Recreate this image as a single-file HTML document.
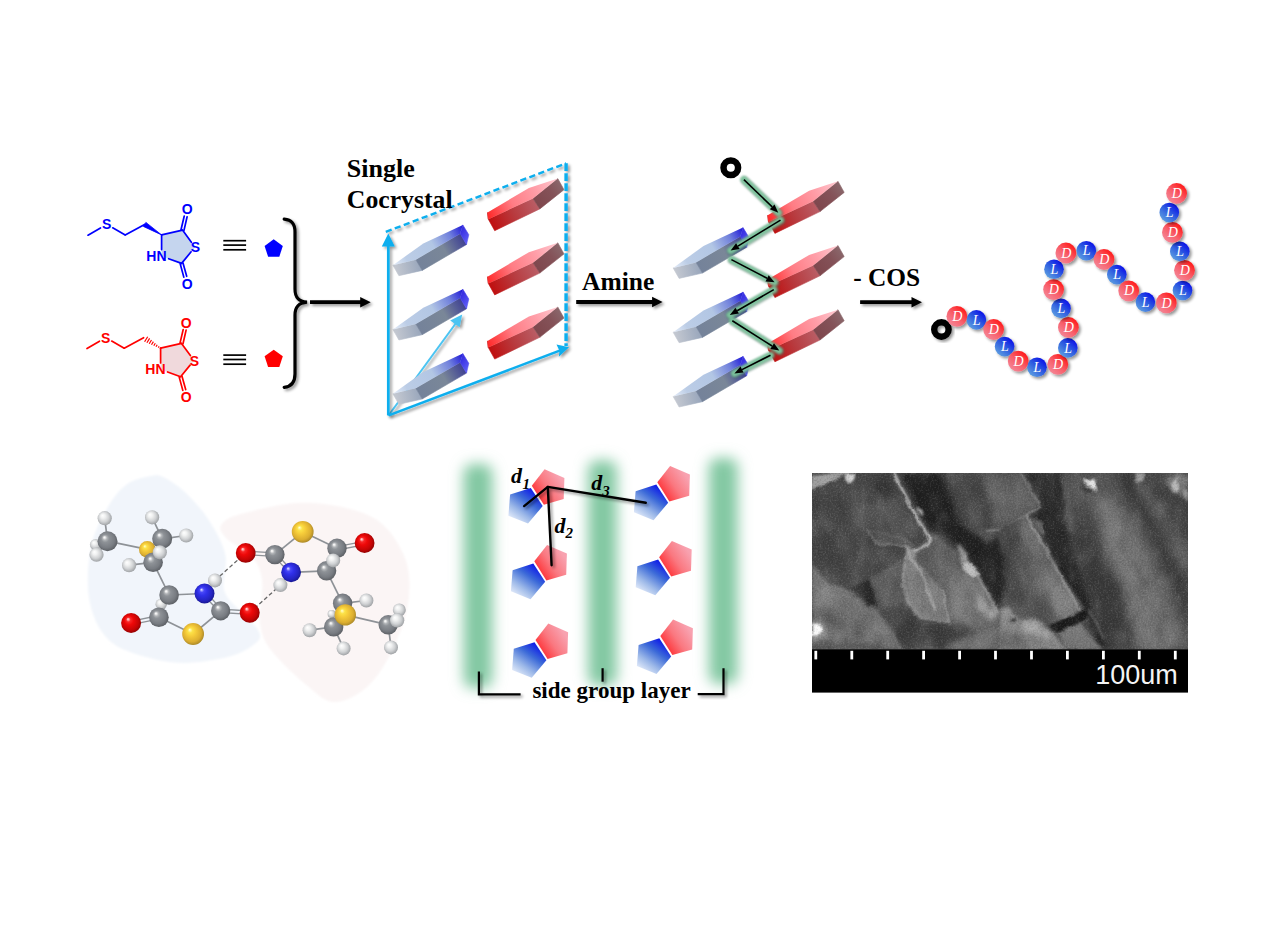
<!DOCTYPE html>
<html><head><meta charset="utf-8"><title>Graphical abstract</title>
<style>
html,body{margin:0;padding:0;background:#fff;width:1264px;height:939px;overflow:hidden}
svg{display:block;position:absolute;left:0;top:0}
</style></head><body>
<svg width="1264" height="939" viewBox="0 0 1264 939" font-family="Liberation Serif, serif">

<defs>
<filter id="sh" x="-30%" y="-30%" width="170%" height="170%"><feGaussianBlur in="SourceAlpha" stdDeviation="1.6"/><feOffset dx="2.2" dy="2.2"/><feComponentTransfer><feFuncA type="linear" slope="0.42"/></feComponentTransfer><feMerge><feMergeNode/><feMergeNode in="SourceGraphic"/></feMerge></filter>
<filter id="shl" filterUnits="userSpaceOnUse" x="370" y="150" width="220" height="290"><feGaussianBlur in="SourceAlpha" stdDeviation="1.6"/><feOffset dx="2.2" dy="2.2"/><feComponentTransfer><feFuncA type="linear" slope="0.42"/></feComponentTransfer><feMerge><feMergeNode/><feMergeNode in="SourceGraphic"/></feMerge></filter>
<filter id="sha" filterUnits="userSpaceOnUse" x="280" y="200" width="700" height="220"><feGaussianBlur in="SourceAlpha" stdDeviation="1.6"/><feOffset dx="2.2" dy="2.2"/><feComponentTransfer><feFuncA type="linear" slope="0.42"/></feComponentTransfer><feMerge><feMergeNode/><feMergeNode in="SourceGraphic"/></feMerge></filter>
<filter id="glow" filterUnits="userSpaceOnUse" x="700" y="150" width="120" height="260"><feGaussianBlur stdDeviation="1.3"/></filter>
<filter id="gb" filterUnits="userSpaceOnUse" x="430" y="430" width="340" height="300"><feGaussianBlur stdDeviation="7"/></filter>
<filter id="blob" x="-10%" y="-10%" width="120%" height="120%"><feGaussianBlur stdDeviation="1.3"/></filter>

<linearGradient id="bTop" gradientUnits="userSpaceOnUse" x1="394" y1="266" x2="464" y2="227"><stop offset="0" stop-color="#e4ecf8"/><stop offset="0.18" stop-color="#bccde6"/><stop offset="0.55" stop-color="#b2c6e4"/><stop offset="0.8" stop-color="#6f7fdc"/><stop offset="1" stop-color="#1c14d8"/></linearGradient>
<linearGradient id="bFront" gradientUnits="userSpaceOnUse" x1="418" y1="266" x2="467" y2="238"><stop offset="0" stop-color="#74829a"/><stop offset="0.55" stop-color="#7a8798"/><stop offset="0.8" stop-color="#535a96"/><stop offset="1" stop-color="#38388e"/></linearGradient>
<linearGradient id="bLeft" gradientUnits="userSpaceOnUse" x1="394" y1="270" x2="422" y2="264"><stop offset="0" stop-color="#c6cad2"/><stop offset="1" stop-color="#96a4ba"/></linearGradient>
<linearGradient id="bRight" gradientUnits="userSpaceOnUse" x1="461" y1="232" x2="469" y2="238"><stop offset="0" stop-color="#3a32e2"/><stop offset="1" stop-color="#5a58f4"/></linearGradient>

<linearGradient id="rTop" gradientUnits="userSpaceOnUse" x1="488" y1="216" x2="557" y2="180"><stop offset="0" stop-color="#ff2a2a"/><stop offset="0.35" stop-color="#ff7c84"/><stop offset="0.7" stop-color="#ff9ea8"/><stop offset="1" stop-color="#ffc8d0"/></linearGradient>
<linearGradient id="rFront" gradientUnits="userSpaceOnUse" x1="490" y1="226" x2="538" y2="203"><stop offset="0" stop-color="#c00c0c"/><stop offset="0.5" stop-color="#b83a3e"/><stop offset="1" stop-color="#ba6068"/></linearGradient>
<linearGradient id="rRight" gradientUnits="userSpaceOnUse" x1="535" y1="204" x2="562" y2="184"><stop offset="0" stop-color="#7e464c"/><stop offset="0.6" stop-color="#845258"/><stop offset="1" stop-color="#8a686c"/></linearGradient>

<linearGradient id="beadR" x1="0.2" y1="0.9" x2="0.85" y2="0.15"><stop offset="0" stop-color="#f48494"/><stop offset="0.45" stop-color="#f8606c"/><stop offset="1" stop-color="#ff1c1c"/></linearGradient>
<linearGradient id="beadB" x1="0.2" y1="0.9" x2="0.85" y2="0.15"><stop offset="0" stop-color="#5a9ae0"/><stop offset="0.5" stop-color="#2f5ee0"/><stop offset="1" stop-color="#0c14e8"/></linearGradient>

<linearGradient id="pR" x1="0.15" y1="0.85" x2="0.9" y2="0.3"><stop offset="0" stop-color="#ff2c30"/><stop offset="0.5" stop-color="#fa7880"/><stop offset="1" stop-color="#f8a2b0"/></linearGradient>
<linearGradient id="pB" x1="0.8" y1="0.1" x2="0.2" y2="0.95"><stop offset="0" stop-color="#0c18e8"/><stop offset="0.35" stop-color="#3c6ad8"/><stop offset="0.7" stop-color="#9cb8e8"/><stop offset="1" stop-color="#e4ecfa"/></linearGradient>

<radialGradient id="aC" cx="0.5" cy="0.5" r="0.66" fx="0.34" fy="0.30"><stop offset="0" stop-color="#ffffff"/><stop offset="0.06" stop-color="#eeeeee"/><stop offset="0.17" stop-color="#b0b3b6"/><stop offset="0.3" stop-color="#8e9297"/><stop offset="0.62" stop-color="#787c82"/><stop offset="1" stop-color="#43464a"/></radialGradient>
<radialGradient id="aH" cx="0.5" cy="0.5" r="0.66" fx="0.34" fy="0.30"><stop offset="0" stop-color="#ffffff"/><stop offset="0.25" stop-color="#f0f1f1"/><stop offset="0.55" stop-color="#cfd1d3"/><stop offset="0.8" stop-color="#a2a5a8"/><stop offset="1" stop-color="#74777a"/></radialGradient>
<radialGradient id="aO" cx="0.5" cy="0.5" r="0.66" fx="0.34" fy="0.30"><stop offset="0" stop-color="#ffe8e8"/><stop offset="0.06" stop-color="#ffb0b0"/><stop offset="0.17" stop-color="#f82828"/><stop offset="0.35" stop-color="#ee0808"/><stop offset="0.65" stop-color="#c40404"/><stop offset="1" stop-color="#5c0000"/></radialGradient>
<radialGradient id="aN" cx="0.5" cy="0.5" r="0.66" fx="0.34" fy="0.30"><stop offset="0" stop-color="#e8e8ff"/><stop offset="0.06" stop-color="#b0b0ff"/><stop offset="0.17" stop-color="#4848f8"/><stop offset="0.35" stop-color="#3030ea"/><stop offset="0.65" stop-color="#2424c0"/><stop offset="1" stop-color="#0c0c60"/></radialGradient>
<radialGradient id="aS" cx="0.5" cy="0.5" r="0.66" fx="0.34" fy="0.30"><stop offset="0" stop-color="#ffffe8"/><stop offset="0.06" stop-color="#fff6a0"/><stop offset="0.17" stop-color="#fce248"/><stop offset="0.35" stop-color="#f6cc3a"/><stop offset="0.65" stop-color="#dcae30"/><stop offset="1" stop-color="#7a6420"/></radialGradient>
</defs>

<g stroke="#0000ff" stroke-width="1.7" stroke-linecap="round" fill="none">
<polygon points="161.6,234.9 182.5,230.1 194.9,247.2 181.6,263.4 161.6,256.1" fill="#c5d5ee" stroke="none"/>
<line x1="161.6" y1="234.9" x2="182.5" y2="230.1"/>
<line x1="182.5" y1="230.1" x2="191.4" y2="242.3"/>
<line x1="191.1" y1="251.8" x2="181.6" y2="263.4"/>
<line x1="181.6" y1="263.4" x2="168.6" y2="258.7"/>
<line x1="161.6" y1="249.6" x2="161.6" y2="234.9"/>
<line x1="181.0" y1="229.8" x2="184.2" y2="216.2"/><line x1="184.0" y1="230.4" x2="187.1" y2="216.8"/>
<line x1="183.0" y1="263.0" x2="186.7" y2="276.3"/><line x1="180.2" y1="263.8" x2="183.8" y2="277.1"/>
<line x1="144.6" y1="224.4" x2="125.2" y2="234.9"/>
<line x1="125.2" y1="234.9" x2="112.7" y2="227.8"/>
<line x1="100.5" y1="227.9" x2="88.0" y2="235.2"/>
</g>
<polygon points="161.6,234.9 143.3,226.4 145.9,222.4" fill="#0000ff" stroke="#0000ff" stroke-width="0.8" stroke-linejoin="round"/>
<g fill="#0000ff" font-family="Liberation Sans, sans-serif" font-weight="bold" font-size="14px" text-anchor="middle">
<text x="106.6" y="229.4">S</text>
<text x="195.4" y="252.2">S</text>
<text x="187.3" y="214.2">O</text>
<text x="187.3" y="288.9">O</text>
<text x="156.4" y="261.1">HN</text>
</g>
<g stroke="#ff0000" stroke-width="1.7" stroke-linecap="round" fill="none">
<polygon points="160.6,348.2 181.5,343.4 193.9,360.5 180.6,376.7 160.6,369.40000000000003" fill="#f0d9dc" stroke="none"/>
<line x1="160.6" y1="348.2" x2="181.5" y2="343.4"/>
<line x1="181.5" y1="343.4" x2="190.4" y2="355.6"/>
<line x1="190.1" y1="365.1" x2="180.6" y2="376.7"/>
<line x1="180.6" y1="376.7" x2="167.6" y2="372.0"/>
<line x1="160.6" y1="362.9" x2="160.6" y2="348.2"/>
<line x1="180.0" y1="343.1" x2="183.2" y2="329.5"/><line x1="183.0" y1="343.7" x2="186.1" y2="330.1"/>
<line x1="182.0" y1="376.3" x2="185.7" y2="389.6"/><line x1="179.2" y1="377.1" x2="182.8" y2="390.4"/>
<line x1="143.6" y1="337.7" x2="124.2" y2="348.2"/>
<line x1="124.2" y1="348.2" x2="111.7" y2="341.1"/>
<line x1="99.5" y1="341.2" x2="87.0" y2="348.5"/>
</g>
<g stroke="#ff0000" stroke-width="1.2">
<line x1="158.3" y1="347.6" x2="159.1" y2="346.4"/>
<line x1="156.0" y1="346.7" x2="157.2" y2="344.8"/>
<line x1="153.8" y1="345.7" x2="155.3" y2="343.2"/>
<line x1="151.5" y1="344.7" x2="153.4" y2="341.6"/>
<line x1="149.2" y1="343.7" x2="151.5" y2="340.0"/>
<line x1="146.9" y1="342.8" x2="149.6" y2="338.4"/>
<line x1="144.6" y1="341.8" x2="147.7" y2="336.8"/>
</g>
<g fill="#ff0000" font-family="Liberation Sans, sans-serif" font-weight="bold" font-size="14px" text-anchor="middle">
<text x="105.6" y="342.7">S</text>
<text x="194.4" y="365.5">S</text>
<text x="186.3" y="327.5">O</text>
<text x="186.3" y="402.2">O</text>
<text x="155.4" y="374.4">HN</text>
</g>
<g stroke="#000" stroke-width="1.7"><line x1="223.3" y1="240.7" x2="246.1" y2="240.7"/><line x1="223.3" y1="245.1" x2="246.1" y2="245.1"/><line x1="223.3" y1="249.8" x2="246.1" y2="249.8"/></g>
<g stroke="#000" stroke-width="1.7"><line x1="223.3" y1="355.1" x2="246.1" y2="355.1"/><line x1="223.3" y1="359.5" x2="246.1" y2="359.5"/><line x1="223.3" y1="364.2" x2="246.1" y2="364.2"/></g>
<polygon points="273.7,239.3 282.8,245.9 279.3,256.7 268.1,256.7 264.6,245.9" fill="#0000ff"/>
<polygon points="273.7,349.7 282.8,356.3 279.3,367.1 268.1,367.1 264.6,356.3" fill="#ff0000"/>
<g filter="url(#sha)">
<path d="M284.2,219.2 C292,220 295,224 295,232 L295,289 C295,297 298,301.5 307,302.2 C298,303 295,307.5 295,315 L295,374 C295,382 292,386.5 284.2,387.3" fill="none" stroke="#000" stroke-width="3.2" stroke-linecap="round"/>
<path d="M310,300.3 L360.2,300.3 L360.2,297.0 L370.7,302.2 L360.2,307.4 L360.2,304.09999999999997 L310,304.09999999999997 Z" fill="#000"/>
<path d="M576.2,300.1 L652.1,300.1 L652.1,296.8 L662.6,302.0 L652.1,307.2 L652.1,303.9 L576.2,303.9 Z" fill="#000"/>
<path d="M860.1,300.3 L911.5,300.3 L911.5,297.0 L922,302.2 L911.5,307.4 L911.5,304.09999999999997 L860.1,304.09999999999997 Z" fill="#000"/>
</g>
<g filter="url(#shl)">
<line x1="388.6" y1="415.4" x2="456.5" y2="322.4" stroke="#4cc4f2" stroke-width="1.8"/>
<polygon points="462.2,314.6 450.2,320.4 459.6,327.2" fill="#4cc4f2"/>
</g>
<g transform="translate(0,0.0)"><polygon points="392.9,265.2 415.8,259.7 422.2,270.4 398.9,275.7" fill="url(#bLeft)" stroke="url(#bLeft)" stroke-width="0.6" stroke-linejoin="round"/><polygon points="415.8,259.7 460.2,233.8 466.5,244.5 422.2,270.4" fill="url(#bFront)" stroke="url(#bFront)" stroke-width="0.6" stroke-linejoin="round"/><polygon points="462.8,224.9 468.8,234.7 466.5,244.5 460.2,233.8" fill="url(#bRight)" stroke="url(#bRight)" stroke-width="0.6" stroke-linejoin="round"/><polygon points="392.9,265.2 423.3,243.4 462.8,224.9 460.2,233.8 415.8,259.7" fill="url(#bTop)"/></g>
<g transform="translate(0,0.0)"><polygon points="487.5,212.5 488.3,219.2 494.7,230.7 539.8,208.9 533,198.6 488.3,219.2" fill="url(#rFront)" stroke="url(#rFront)" stroke-width="0.6" stroke-linejoin="round"/><polygon points="533,198.6 557.8,178.6 564,189.7 539.8,208.9" fill="url(#rRight)" stroke="url(#rRight)" stroke-width="0.6" stroke-linejoin="round"/><polygon points="487.5,212.5 528.9,188 557.8,178.6 533,198.6 488.3,219.2" fill="url(#rTop)"/></g>
<g transform="translate(0,64.3)"><polygon points="392.9,265.2 415.8,259.7 422.2,270.4 398.9,275.7" fill="url(#bLeft)" stroke="url(#bLeft)" stroke-width="0.6" stroke-linejoin="round"/><polygon points="415.8,259.7 460.2,233.8 466.5,244.5 422.2,270.4" fill="url(#bFront)" stroke="url(#bFront)" stroke-width="0.6" stroke-linejoin="round"/><polygon points="462.8,224.9 468.8,234.7 466.5,244.5 460.2,233.8" fill="url(#bRight)" stroke="url(#bRight)" stroke-width="0.6" stroke-linejoin="round"/><polygon points="392.9,265.2 423.3,243.4 462.8,224.9 460.2,233.8 415.8,259.7" fill="url(#bTop)"/></g>
<g transform="translate(0,64.2)"><polygon points="487.5,212.5 488.3,219.2 494.7,230.7 539.8,208.9 533,198.6 488.3,219.2" fill="url(#rFront)" stroke="url(#rFront)" stroke-width="0.6" stroke-linejoin="round"/><polygon points="533,198.6 557.8,178.6 564,189.7 539.8,208.9" fill="url(#rRight)" stroke="url(#rRight)" stroke-width="0.6" stroke-linejoin="round"/><polygon points="487.5,212.5 528.9,188 557.8,178.6 533,198.6 488.3,219.2" fill="url(#rTop)"/></g>
<g transform="translate(0,128.6)"><polygon points="392.9,265.2 415.8,259.7 422.2,270.4 398.9,275.7" fill="url(#bLeft)" stroke="url(#bLeft)" stroke-width="0.6" stroke-linejoin="round"/><polygon points="415.8,259.7 460.2,233.8 466.5,244.5 422.2,270.4" fill="url(#bFront)" stroke="url(#bFront)" stroke-width="0.6" stroke-linejoin="round"/><polygon points="462.8,224.9 468.8,234.7 466.5,244.5 460.2,233.8" fill="url(#bRight)" stroke="url(#bRight)" stroke-width="0.6" stroke-linejoin="round"/><polygon points="392.9,265.2 423.3,243.4 462.8,224.9 460.2,233.8 415.8,259.7" fill="url(#bTop)"/></g>
<g transform="translate(0,128.4)"><polygon points="487.5,212.5 488.3,219.2 494.7,230.7 539.8,208.9 533,198.6 488.3,219.2" fill="url(#rFront)" stroke="url(#rFront)" stroke-width="0.6" stroke-linejoin="round"/><polygon points="533,198.6 557.8,178.6 564,189.7 539.8,208.9" fill="url(#rRight)" stroke="url(#rRight)" stroke-width="0.6" stroke-linejoin="round"/><polygon points="487.5,212.5 528.9,188 557.8,178.6 533,198.6 488.3,219.2" fill="url(#rTop)"/></g>
<g filter="url(#shl)" stroke="#0aaeee" fill="none">
<line x1="385.8" y1="231.9" x2="566.1" y2="163.3" stroke-width="2.4" stroke-dasharray="6.2 3.4"/>
<line x1="566.1" y1="163.3" x2="566.1" y2="346" stroke-width="3.4" stroke-dasharray="7.6 2.4"/>
<line x1="388.3" y1="415.4" x2="388.3" y2="245" stroke-width="2.7"/>
<polygon points="388.3,233.5 381.8,246.6 394.8,246.6" fill="#0aaeee" stroke="none"/>
<line x1="388.6" y1="415.4" x2="561" y2="350.2" stroke-width="2.5"/>
<polygon points="569,347.2 556.5,344.6 559.5,350.8 558.8,356.8" fill="#0aaeee" stroke="none"/>
</g>
<g font-family="Liberation Serif, serif" font-weight="bold" font-size="25px" fill="#000">
<text transform="translate(346.8,177.4) scale(1.04,1)" >Single</text><text transform="translate(346.8,207.8) scale(1.03,1)" >Cocrystal</text>
<text transform="translate(582.0,289.7) scale(1.02,1)" >Amine</text>
<text transform="translate(853.2,285.7) scale(1.015,1)" >- COS</text>
</g>
<g transform="translate(280.2,2.7)"><polygon points="392.9,265.2 415.8,259.7 422.2,270.4 398.9,275.7" fill="url(#bLeft)" stroke="url(#bLeft)" stroke-width="0.6" stroke-linejoin="round"/><polygon points="415.8,259.7 460.2,233.8 466.5,244.5 422.2,270.4" fill="url(#bFront)" stroke="url(#bFront)" stroke-width="0.6" stroke-linejoin="round"/><polygon points="462.8,224.9 468.8,234.7 466.5,244.5 460.2,233.8" fill="url(#bRight)" stroke="url(#bRight)" stroke-width="0.6" stroke-linejoin="round"/><polygon points="392.9,265.2 423.3,243.4 462.8,224.9 460.2,233.8 415.8,259.7" fill="url(#bTop)"/></g>
<g transform="translate(280.2,2.7)"><polygon points="487.5,212.5 488.3,219.2 494.7,230.7 539.8,208.9 533,198.6 488.3,219.2" fill="url(#rFront)" stroke="url(#rFront)" stroke-width="0.6" stroke-linejoin="round"/><polygon points="533,198.6 557.8,178.6 564,189.7 539.8,208.9" fill="url(#rRight)" stroke="url(#rRight)" stroke-width="0.6" stroke-linejoin="round"/><polygon points="487.5,212.5 528.9,188 557.8,178.6 533,198.6 488.3,219.2" fill="url(#rTop)"/></g>
<g transform="translate(280.2,67.0)"><polygon points="392.9,265.2 415.8,259.7 422.2,270.4 398.9,275.7" fill="url(#bLeft)" stroke="url(#bLeft)" stroke-width="0.6" stroke-linejoin="round"/><polygon points="415.8,259.7 460.2,233.8 466.5,244.5 422.2,270.4" fill="url(#bFront)" stroke="url(#bFront)" stroke-width="0.6" stroke-linejoin="round"/><polygon points="462.8,224.9 468.8,234.7 466.5,244.5 460.2,233.8" fill="url(#bRight)" stroke="url(#bRight)" stroke-width="0.6" stroke-linejoin="round"/><polygon points="392.9,265.2 423.3,243.4 462.8,224.9 460.2,233.8 415.8,259.7" fill="url(#bTop)"/></g>
<g transform="translate(280.2,66.9)"><polygon points="487.5,212.5 488.3,219.2 494.7,230.7 539.8,208.9 533,198.6 488.3,219.2" fill="url(#rFront)" stroke="url(#rFront)" stroke-width="0.6" stroke-linejoin="round"/><polygon points="533,198.6 557.8,178.6 564,189.7 539.8,208.9" fill="url(#rRight)" stroke="url(#rRight)" stroke-width="0.6" stroke-linejoin="round"/><polygon points="487.5,212.5 528.9,188 557.8,178.6 533,198.6 488.3,219.2" fill="url(#rTop)"/></g>
<g transform="translate(280.2,131.29999999999998)"><polygon points="392.9,265.2 415.8,259.7 422.2,270.4 398.9,275.7" fill="url(#bLeft)" stroke="url(#bLeft)" stroke-width="0.6" stroke-linejoin="round"/><polygon points="415.8,259.7 460.2,233.8 466.5,244.5 422.2,270.4" fill="url(#bFront)" stroke="url(#bFront)" stroke-width="0.6" stroke-linejoin="round"/><polygon points="462.8,224.9 468.8,234.7 466.5,244.5 460.2,233.8" fill="url(#bRight)" stroke="url(#bRight)" stroke-width="0.6" stroke-linejoin="round"/><polygon points="392.9,265.2 423.3,243.4 462.8,224.9 460.2,233.8 415.8,259.7" fill="url(#bTop)"/></g>
<g transform="translate(280.2,131.1)"><polygon points="487.5,212.5 488.3,219.2 494.7,230.7 539.8,208.9 533,198.6 488.3,219.2" fill="url(#rFront)" stroke="url(#rFront)" stroke-width="0.6" stroke-linejoin="round"/><polygon points="533,198.6 557.8,178.6 564,189.7 539.8,208.9" fill="url(#rRight)" stroke="url(#rRight)" stroke-width="0.6" stroke-linejoin="round"/><polygon points="487.5,212.5 528.9,188 557.8,178.6 533,198.6 488.3,219.2" fill="url(#rTop)"/></g>
<g filter="url(#glow)" stroke="#3f6b55" stroke-width="8.4" stroke-linecap="round" fill="none" opacity="0.45">
<line x1="744.6999999999999" y1="180.4" x2="779.0999999999999" y2="213.60000000000002"/>
<line x1="781.3" y1="220.9" x2="731.4" y2="251.3"/>
<line x1="732.1999999999999" y1="260.40000000000003" x2="775.4" y2="283.1"/>
<line x1="774.5999999999999" y1="290.40000000000003" x2="730.5999999999999" y2="315.7"/>
<line x1="733.0999999999999" y1="321.5" x2="780.0999999999999" y2="351.40000000000003"/>
<line x1="771.3" y1="356.0" x2="735.1999999999999" y2="374.2"/>
</g>
<g filter="url(#glow)" stroke="#7cc49c" stroke-width="6.8" stroke-linecap="round" fill="none" opacity="0.97">
<line x1="743.9" y1="179.6" x2="778.3" y2="212.8"/>
<line x1="780.5" y1="220.1" x2="730.6" y2="250.5"/>
<line x1="731.4" y1="259.6" x2="774.6" y2="282.3"/>
<line x1="773.8" y1="289.6" x2="729.8" y2="314.9"/>
<line x1="732.3" y1="320.7" x2="779.3" y2="350.6"/>
<line x1="770.5" y1="355.2" x2="734.4" y2="373.4"/>
</g>
<g stroke="#000" stroke-width="1.6" fill="#000">
<line x1="743.9" y1="179.6" x2="772.2" y2="206.9"/>
<polygon points="778.3,212.8 769.8,209.3 774.5,204.5" stroke="none"/>
<line x1="780.5" y1="220.1" x2="737.9" y2="246.1"/>
<polygon points="730.6,250.5 736.1,243.2 739.6,249.0" stroke="none"/>
<line x1="731.4" y1="259.6" x2="767.1" y2="278.3"/>
<polygon points="774.6,282.3 765.5,281.4 768.7,275.3" stroke="none"/>
<line x1="773.8" y1="289.6" x2="737.2" y2="310.7"/>
<polygon points="729.8,314.9 735.5,307.7 738.9,313.6" stroke="none"/>
<line x1="732.3" y1="320.7" x2="772.1" y2="346.0"/>
<polygon points="779.3,350.6 770.3,348.9 774.0,343.2" stroke="none"/>
<line x1="770.5" y1="355.2" x2="742.0" y2="369.6"/>
<polygon points="734.4,373.4 740.5,366.5 743.5,372.6" stroke="none"/>
</g>
<circle cx="730.8" cy="167.7" r="7.3" fill="none" stroke="#000" stroke-width="6.5"/>
<g filter="url(#sh)"><circle cx="941.4" cy="329.5" r="7.2" fill="none" stroke="#000" stroke-width="6.4"/></g>
<g font-family="Liberation Serif, serif" font-style="italic" font-size="14px" fill="#fff" text-anchor="middle">
<g filter="url(#sh)"><circle cx="956.9" cy="316.3" r="10.4" fill="url(#beadR)"/></g><text x="957.2" y="320.9">D</text>
<g filter="url(#sh)"><circle cx="976.4" cy="319.9" r="9.8" fill="url(#beadB)"/></g><text x="976.7" y="324.5">L</text>
<g filter="url(#sh)"><circle cx="993.6" cy="329.5" r="10.4" fill="url(#beadR)"/></g><text x="993.9" y="334.1">D</text>
<g filter="url(#sh)"><circle cx="1004.6" cy="346.6" r="9.8" fill="url(#beadB)"/></g><text x="1004.9" y="351.2">L</text>
<g filter="url(#sh)"><circle cx="1018.2" cy="361.1" r="10.4" fill="url(#beadR)"/></g><text x="1018.5" y="365.7">D</text>
<g filter="url(#sh)"><circle cx="1037.0" cy="367.2" r="9.8" fill="url(#beadB)"/></g><text x="1037.3" y="371.8">L</text>
<g filter="url(#sh)"><circle cx="1057.8" cy="364.3" r="10.4" fill="url(#beadR)"/></g><text x="1058.1" y="368.9">D</text>
<g filter="url(#sh)"><circle cx="1067.8" cy="347.9" r="9.8" fill="url(#beadB)"/></g><text x="1068.1" y="352.5">L</text>
<g filter="url(#sh)"><circle cx="1068.4" cy="327.5" r="10.4" fill="url(#beadR)"/></g><text x="1068.7" y="332.1">D</text>
<g filter="url(#sh)"><circle cx="1061.0" cy="308.4" r="9.8" fill="url(#beadB)"/></g><text x="1061.3" y="313.0">L</text>
<g filter="url(#sh)"><circle cx="1053.6" cy="289.6" r="10.4" fill="url(#beadR)"/></g><text x="1053.9" y="294.2">D</text>
<g filter="url(#sh)"><circle cx="1054.0" cy="269.2" r="9.8" fill="url(#beadB)"/></g><text x="1054.3" y="273.8">L</text>
<g filter="url(#sh)"><circle cx="1065.9" cy="253.0" r="10.4" fill="url(#beadR)"/></g><text x="1066.2" y="257.6">D</text>
<g filter="url(#sh)"><circle cx="1086.3" cy="250.7" r="9.8" fill="url(#beadB)"/></g><text x="1086.6" y="255.3">L</text>
<g filter="url(#sh)"><circle cx="1104.0" cy="259.5" r="10.4" fill="url(#beadR)"/></g><text x="1104.3" y="264.1">D</text>
<g filter="url(#sh)"><circle cx="1116.8" cy="274.6" r="9.8" fill="url(#beadB)"/></g><text x="1117.1" y="279.2">L</text>
<g filter="url(#sh)"><circle cx="1128.7" cy="290.8" r="10.4" fill="url(#beadR)"/></g><text x="1129.0" y="295.4">D</text>
<g filter="url(#sh)"><circle cx="1145.4" cy="302.1" r="9.8" fill="url(#beadB)"/></g><text x="1145.7" y="306.7">L</text>
<g filter="url(#sh)"><circle cx="1166.3" cy="302.9" r="10.4" fill="url(#beadR)"/></g><text x="1166.6" y="307.5">D</text>
<g filter="url(#sh)"><circle cx="1182.5" cy="290.5" r="9.8" fill="url(#beadB)"/></g><text x="1182.8" y="295.1">L</text>
<g filter="url(#sh)"><circle cx="1184.5" cy="270.3" r="10.4" fill="url(#beadR)"/></g><text x="1184.8" y="274.9">D</text>
<g filter="url(#sh)"><circle cx="1179.8" cy="251.4" r="9.8" fill="url(#beadB)"/></g><text x="1180.1" y="256.0">L</text>
<g filter="url(#sh)"><circle cx="1172.4" cy="232.4" r="10.4" fill="url(#beadR)"/></g><text x="1172.7" y="237.0">D</text>
<g filter="url(#sh)"><circle cx="1169.3" cy="212.5" r="9.8" fill="url(#beadB)"/></g><text x="1169.6" y="217.1">L</text>
<g filter="url(#sh)"><circle cx="1176.6" cy="193.5" r="10.4" fill="url(#beadR)"/></g><text x="1176.9" y="198.1">D</text>
</g>
<path d="M152.6,475.7 C146.3,476.7 134.6,478.8 127.0,484.2 C119.4,489.6 112.9,498.2 107.0,508.4 C101.1,518.6 94.5,531.1 91.4,545.4 C88.3,559.6 86.8,579.6 88.5,593.9 C90.2,608.1 94.9,621.4 101.3,630.9 C107.7,640.4 114.2,645.5 127.0,650.8 C139.8,656.1 161.1,661.8 178.2,662.8 C195.3,663.8 216.4,659.9 229.5,656.5 C242.6,653.1 251.9,646.7 256.6,642.3 C261.4,637.9 260.8,635.2 258.0,630.0 C255.2,624.8 245.7,617.7 240.0,611.0 C234.3,604.3 226.5,599.5 224.0,590.0 C221.5,580.5 228.1,566.2 225.2,554.0 C222.3,541.8 213.6,527.5 206.7,517.0 C199.8,506.6 190.8,497.8 183.9,491.3 C177.0,484.8 170.2,480.6 165.0,478.0 C159.8,475.4 158.9,474.7 152.6,475.7 Z" fill="#f1f5fb" filter="url(#blob)"/>
<path d="M221.0,525.5 C223.5,521.5 226.7,517.9 240.9,514.1 C255.1,510.3 284.6,502.2 306.4,502.7 C328.2,503.2 355.8,508.4 371.9,517.0 C388.0,525.5 397.0,540.7 403.2,554.0 C409.4,567.3 410.3,581.5 408.9,596.7 C407.5,611.9 401.3,630.4 394.7,645.1 C388.1,659.8 379.1,675.5 369.1,685.0 C359.1,694.5 345.3,702.1 334.9,702.1 C324.4,702.1 317.3,694.0 306.4,685.0 C295.5,676.0 277.2,658.8 269.4,648.0 C261.6,637.2 260.8,628.0 259.5,620.0 C258.2,612.0 261.1,606.7 261.5,600.0 C261.9,593.3 262.9,586.3 262.0,580.0 C261.1,573.7 259.7,567.3 256.0,562.0 C252.3,556.7 245.0,552.0 240.0,548.0 C235.0,544.0 229.2,541.8 226.0,538.0 C222.8,534.2 218.5,529.5 221.0,525.5 Z" fill="#fbf5f5" filter="url(#blob)"/>
<line x1="104.7" y1="518.2" x2="107.5" y2="541.2" stroke="#8e9297" stroke-width="1.7"/>
<line x1="107.5" y1="541.2" x2="96.5" y2="554.7" stroke="#8e9297" stroke-width="1.7"/>
<line x1="107.5" y1="541.2" x2="95.5" y2="544.6" stroke="#8e9297" stroke-width="1.7"/>
<line x1="107.5" y1="541.2" x2="147.3" y2="549.4" stroke="#8e9297" stroke-width="1.7"/>
<line x1="147.3" y1="549.4" x2="162.2" y2="538.8" stroke="#8e9297" stroke-width="1.7"/>
<line x1="162.2" y1="538.8" x2="152.1" y2="517.3" stroke="#8e9297" stroke-width="1.7"/>
<line x1="162.2" y1="538.8" x2="186.2" y2="535.5" stroke="#8e9297" stroke-width="1.7"/>
<line x1="162.2" y1="538.8" x2="153.1" y2="562.3" stroke="#8e9297" stroke-width="1.7"/>
<line x1="153.1" y1="562.3" x2="129.1" y2="565.2" stroke="#8e9297" stroke-width="1.7"/>
<line x1="153.1" y1="562.3" x2="159.8" y2="552.3" stroke="#8e9297" stroke-width="1.7"/>
<line x1="153.1" y1="562.3" x2="169.1" y2="595" stroke="#8e9297" stroke-width="1.7"/>
<line x1="169.1" y1="595" x2="204.5" y2="593.5" stroke="#8e9297" stroke-width="1.7"/>
<line x1="169.1" y1="595" x2="158.9" y2="617.2" stroke="#8e9297" stroke-width="1.7"/>
<line x1="169.1" y1="595" x2="161.2" y2="604.2" stroke="#8e9297" stroke-width="1.7"/>
<line x1="204.5" y1="593.5" x2="215" y2="580.4" stroke="#8e9297" stroke-width="1.7"/>
<line x1="158.9" y1="617.2" x2="193.1" y2="634" stroke="#8e9297" stroke-width="1.7"/>
<line x1="193.1" y1="634" x2="220.7" y2="610.8" stroke="#8e9297" stroke-width="1.7"/>
<line x1="159.2" y1="618.9" x2="131.4" y2="624.7" stroke="#8e9297" stroke-width="1.3"/><line x1="158.6" y1="615.5" x2="130.8" y2="621.3" stroke="#8e9297" stroke-width="1.3"/>
<line x1="220.8" y1="609.1" x2="249.8" y2="611.0" stroke="#8e9297" stroke-width="1.3"/><line x1="220.6" y1="612.5" x2="249.6" y2="614.4" stroke="#8e9297" stroke-width="1.3"/>
<line x1="205.7" y1="592.3" x2="221.9" y2="609.6" stroke="#8e9297" stroke-width="1.3"/><line x1="203.3" y1="594.7" x2="219.5" y2="612.0" stroke="#8e9297" stroke-width="1.3"/>
<line x1="274.9" y1="554.6" x2="302.7" y2="531.8" stroke="#8e9297" stroke-width="1.7"/>
<line x1="302.7" y1="531.8" x2="337" y2="548.3" stroke="#8e9297" stroke-width="1.7"/>
<line x1="337" y1="548.3" x2="326.6" y2="570.8" stroke="#8e9297" stroke-width="1.7"/>
<line x1="326.6" y1="570.8" x2="291.1" y2="572.3" stroke="#8e9297" stroke-width="1.7"/>
<line x1="326.6" y1="570.8" x2="333.2" y2="560.4" stroke="#8e9297" stroke-width="1.7"/>
<line x1="291.1" y1="572.3" x2="280.4" y2="585.1" stroke="#8e9297" stroke-width="1.7"/>
<line x1="326.6" y1="570.8" x2="342.6" y2="603.3" stroke="#8e9297" stroke-width="1.7"/>
<line x1="342.6" y1="603.3" x2="366.4" y2="600.5" stroke="#8e9297" stroke-width="1.7"/>
<line x1="342.6" y1="603.3" x2="333.7" y2="626.9" stroke="#8e9297" stroke-width="1.7"/>
<line x1="333.7" y1="626.9" x2="309.6" y2="630.2" stroke="#8e9297" stroke-width="1.7"/>
<line x1="333.7" y1="626.9" x2="343.6" y2="648.4" stroke="#8e9297" stroke-width="1.7"/>
<line x1="333.7" y1="626.9" x2="345.3" y2="614.9" stroke="#8e9297" stroke-width="1.7"/>
<line x1="345.3" y1="614.9" x2="388.2" y2="624.8" stroke="#8e9297" stroke-width="1.7"/>
<line x1="388.2" y1="624.8" x2="399.3" y2="609.9" stroke="#8e9297" stroke-width="1.7"/>
<line x1="388.2" y1="624.8" x2="397.1" y2="620.3" stroke="#8e9297" stroke-width="1.7"/>
<line x1="388.2" y1="624.8" x2="391" y2="647.4" stroke="#8e9297" stroke-width="1.7"/>
<line x1="245.8" y1="551.2" x2="275.0" y2="552.9" stroke="#8e9297" stroke-width="1.3"/><line x1="245.6" y1="554.6" x2="274.8" y2="556.3" stroke="#8e9297" stroke-width="1.3"/>
<line x1="336.7" y1="546.6" x2="364.3" y2="541.3" stroke="#8e9297" stroke-width="1.3"/><line x1="337.3" y1="550.0" x2="364.9" y2="544.7" stroke="#8e9297" stroke-width="1.3"/>
<line x1="276.2" y1="553.5" x2="292.4" y2="571.2" stroke="#8e9297" stroke-width="1.3"/><line x1="273.6" y1="555.7" x2="289.8" y2="573.4" stroke="#8e9297" stroke-width="1.3"/>
<line x1="215" y1="580.4" x2="245.7" y2="552.9" stroke="#666" stroke-width="1.3" stroke-dasharray="4 2.5"/>
<line x1="249.7" y1="612.7" x2="280.4" y2="585.1" stroke="#666" stroke-width="1.3" stroke-dasharray="4 2.5"/>
<circle cx="95.5" cy="544.6" r="5.6" fill="url(#aH)"/>
<circle cx="107.5" cy="541.2" r="10" fill="url(#aC)"/>
<circle cx="104.7" cy="518.2" r="7.1" fill="url(#aH)"/>
<circle cx="96.5" cy="554.7" r="7.1" fill="url(#aH)"/>
<circle cx="147.3" cy="549.4" r="8.3" fill="url(#aS)"/>
<circle cx="152.1" cy="517.3" r="7.1" fill="url(#aH)"/>
<circle cx="162.2" cy="538.8" r="10" fill="url(#aC)"/>
<circle cx="186.2" cy="535.5" r="7.1" fill="url(#aH)"/>
<circle cx="153.1" cy="562.3" r="9.8" fill="url(#aC)"/>
<circle cx="159.8" cy="552.3" r="7.1" fill="url(#aH)"/>
<circle cx="129.1" cy="565.2" r="7.1" fill="url(#aH)"/>
<circle cx="161.2" cy="604.2" r="5.7" fill="url(#aH)"/>
<circle cx="158.9" cy="617.2" r="9.8" fill="url(#aC)"/>
<circle cx="169.1" cy="595" r="9.8" fill="url(#aC)"/>
<circle cx="131.1" cy="623" r="10" fill="url(#aO)"/>
<circle cx="193.1" cy="634" r="10.9" fill="url(#aS)"/>
<circle cx="220.7" cy="610.8" r="9.6" fill="url(#aC)"/>
<circle cx="204.5" cy="593.5" r="10" fill="url(#aN)"/>
<circle cx="215" cy="580.4" r="7" fill="url(#aH)"/>
<circle cx="249.7" cy="612.7" r="10" fill="url(#aO)"/>
<circle cx="245.7" cy="552.9" r="9.9" fill="url(#aO)"/>
<circle cx="274.9" cy="554.6" r="9.7" fill="url(#aC)"/>
<circle cx="302.7" cy="531.8" r="10.9" fill="url(#aS)"/>
<circle cx="291.1" cy="572.3" r="9.9" fill="url(#aN)"/>
<circle cx="280.4" cy="585.1" r="7" fill="url(#aH)"/>
<circle cx="337" cy="548.3" r="9.7" fill="url(#aC)"/>
<circle cx="364.6" cy="543" r="9.9" fill="url(#aO)"/>
<circle cx="326.6" cy="570.8" r="9.7" fill="url(#aC)"/>
<circle cx="333.2" cy="560.4" r="7" fill="url(#aH)"/>
<circle cx="342.6" cy="603.3" r="9.7" fill="url(#aC)"/>
<circle cx="366.4" cy="600.5" r="7" fill="url(#aH)"/>
<circle cx="331.6" cy="614" r="4" fill="url(#aH)"/>
<circle cx="333.7" cy="626.9" r="9.7" fill="url(#aC)"/>
<circle cx="345.3" cy="614.9" r="10.7" fill="url(#aS)"/>
<circle cx="309.6" cy="630.2" r="7" fill="url(#aH)"/>
<circle cx="343.6" cy="648.4" r="7" fill="url(#aH)"/>
<circle cx="388.2" cy="624.8" r="9.7" fill="url(#aC)"/>
<circle cx="399.3" cy="609.9" r="6.5" fill="url(#aH)"/>
<circle cx="397.1" cy="620.3" r="7.2" fill="url(#aH)"/>
<circle cx="391" cy="647.4" r="7" fill="url(#aH)"/>
<g filter="url(#gb)" fill="#82c8a2">
<rect x="463.5" y="464" width="29" height="224" rx="9"/>
<rect x="588.0" y="460.5" width="29" height="225.5" rx="9"/>
<rect x="708.8" y="458" width="29" height="226" rx="9"/>
</g>
<polygon points="510.1,494.6 530.8,488.0 542.7,506.1 528.0,523.6 508.4,515.7" fill="url(#pB)"/>
<polygon points="544.6,469.3 564.4,478.0 563.7,499.1 543.9,504.8 531.8,485.7" fill="url(#pR)"/>
<polygon points="512.6,570.2 533.3,563.6 545.2,581.7 530.5,599.2 510.9,591.3" fill="url(#pB)"/>
<polygon points="547.1,544.9 566.9,553.6 566.2,574.7 546.4,580.4 534.3,561.3" fill="url(#pR)"/>
<polygon points="513.8,648.8 534.5,642.2 546.4,660.3 531.7,677.8 512.1,669.9" fill="url(#pB)"/>
<polygon points="548.3,623.5 568.1,632.2 567.4,653.3 547.6,659.0 535.5,639.9" fill="url(#pR)"/>
<polygon points="635.6,491.2 656.3,484.6 668.2,502.7 653.5,520.2 633.9,512.3" fill="url(#pB)"/>
<polygon points="670.1,465.9 689.9,474.6 689.2,495.7 669.4,501.4 657.3,482.3" fill="url(#pR)"/>
<polygon points="637.4,566.2 658.1,559.6 670.0,577.7 655.3,595.2 635.7,587.3" fill="url(#pB)"/>
<polygon points="671.9,540.9 691.7,549.6 691.0,570.7 671.2,576.4 659.1,557.3" fill="url(#pR)"/>
<polygon points="638.6,644.9 659.3,638.3 671.2,656.4 656.5,673.9 636.9,666.0" fill="url(#pB)"/>
<polygon points="673.1,619.6 692.9,628.3 692.2,649.4 672.4,655.1 660.3,636.0" fill="url(#pR)"/>
<g filter="url(#sh)" stroke="#000" stroke-width="2.4" stroke-linecap="round" stroke-linejoin="round" fill="none">
<polyline points="524.1,506.1 547.8,486.9 645.8,502.8"/>
<line x1="547.8" y1="486.9" x2="551.6" y2="565.2"/>
</g>
<g filter="url(#sh)" stroke="#000" stroke-width="2.2" fill="none">
<polyline points="478.9,671.4 478.9,694.4 520.6,694.4"/>
<line x1="602.6" y1="668.2" x2="602.6" y2="681.7"/>
<polyline points="697.7,694.2 723.5,694.2 723.5,668.2"/>
</g>
<g font-family="Liberation Serif, serif" font-weight="bold" fill="#000">
<text transform="translate(532.4,698) scale(1.024,1)" font-size="22.5px">side group layer</text>
<g font-style="italic">
<text x="511" y="483" font-size="22px">d</text><text x="522.5" y="488.8" font-size="15px">1</text>
<text x="554.5" y="532.6" font-size="22px">d</text><text x="565.5" y="538" font-size="15px">2</text>
<text x="591.3" y="490.2" font-size="22px">d</text><text x="602.3" y="496.4" font-size="15px">3</text>
</g></g>
<clipPath id="semclip"><rect x="812" y="473" width="376" height="176.5"/></clipPath>
<filter id="f08" filterUnits="userSpaceOnUse" x="780" y="440" width="440" height="240"><feGaussianBlur stdDeviation="0.8"/></filter>
<filter id="f15" filterUnits="userSpaceOnUse" x="780" y="440" width="440" height="240"><feGaussianBlur stdDeviation="1.5"/></filter>
<filter id="f25" filterUnits="userSpaceOnUse" x="780" y="440" width="440" height="240"><feGaussianBlur stdDeviation="2.5"/></filter>
<filter id="f4" filterUnits="userSpaceOnUse" x="780" y="440" width="440" height="240"><feGaussianBlur stdDeviation="4"/></filter>
<filter id="f6" filterUnits="userSpaceOnUse" x="780" y="440" width="440" height="240"><feGaussianBlur stdDeviation="6"/></filter>
<filter id="noiseW" filterUnits="userSpaceOnUse" x="812" y="473" width="376" height="177"><feTurbulence type="fractalNoise" baseFrequency="0.6" numOctaves="2" seed="4"/><feColorMatrix type="matrix" values="0 0 0 0 1  0 0 0 0 1  0 0 0 0 1  1.6 0 0 0 -0.8"/></filter>
<filter id="noiseK" filterUnits="userSpaceOnUse" x="812" y="473" width="376" height="177"><feTurbulence type="fractalNoise" baseFrequency="0.6" numOctaves="2" seed="4"/><feColorMatrix type="matrix" values="0 0 0 0 0  0 0 0 0 0  0 0 0 0 0  -1.6 0 0 0 0.8"/></filter>
<filter id="rough" filterUnits="userSpaceOnUse" x="800" y="460" width="400" height="200"><feTurbulence type="fractalNoise" baseFrequency="0.09" numOctaves="2" seed="7" result="t"/><feDisplacementMap in="SourceGraphic" in2="t" scale="4" xChannelSelector="R" yChannelSelector="G"/></filter>
<filter id="motW" filterUnits="userSpaceOnUse" x="812" y="473" width="376" height="177"><feTurbulence type="fractalNoise" baseFrequency="0.06 0.035" numOctaves="3" seed="11"/><feColorMatrix type="matrix" values="0 0 0 0 1  0 0 0 0 1  0 0 0 0 1  2.2 0 0 0 -1.1"/></filter>
<filter id="motK" filterUnits="userSpaceOnUse" x="812" y="473" width="376" height="177"><feTurbulence type="fractalNoise" baseFrequency="0.06 0.035" numOctaves="3" seed="11"/><feColorMatrix type="matrix" values="0 0 0 0 0  0 0 0 0 0  0 0 0 0 0  -2.2 0 0 0 1.1"/></filter>
<g id="sem">
<g clip-path="url(#semclip)"><g filter="url(#rough)">
<rect x="800" y="460" width="400" height="200" fill="#4a4a4a"/>
<polygon points="1040.0,473.0 1188.0,473.0 1188.0,650.0 1090.0,650.0 1060.0,560.0" fill="#4e4e4e" filter="url(#f4)" opacity="1"/>
<polygon points="1071.4,473.0 1116.0,473.0 1119.0,496.8 1089.2,493.8" fill="#545454" filter="url(#f6)" opacity="1"/>
<polygon points="1089.0,494.0 1122.0,497.0 1152.0,562.0 1178.0,620.0 1188.0,650.0 1143.0,650.0 1131.0,591.0 1113.0,562.0" fill="#707070" filter="url(#f6)" opacity="1"/>
<polygon points="1098.0,520.0 1120.0,520.0 1150.0,600.0 1160.0,650.0 1140.0,650.0" fill="#787878" filter="url(#f6)" opacity="0.8"/>
<polygon points="1071.0,532.0 1095.0,537.0 1119.0,591.0 1134.0,650.0 1107.0,650.0 1092.0,606.0" fill="#3a3a3a" filter="url(#f4)" opacity="1"/>
<polygon points="1116.0,473.0 1134.0,473.0 1164.0,525.0 1188.0,598.0 1188.0,620.0 1149.0,533.0" fill="#3c3c3c" filter="url(#f4)" opacity="1"/>
<polygon points="1137.0,485.0 1150.0,485.0 1188.0,540.0 1188.0,575.0 1178.0,562.0" fill="#5a5a5a" filter="url(#f4)" opacity="1"/>
<polygon points="1148.7,481.9 1188.0,496.8 1188.0,539.9" fill="#424242" filter="url(#f4)" opacity="1"/>
<polyline points="1063.2,480.4 1066.2,502.7 1069.9,529.5" fill="none" stroke="#626262" stroke-width="6" filter="url(#f25)" opacity="1" stroke-linejoin="round" stroke-linecap="round"/>
<polygon points="1022.0,473.0 1060.0,473.0 1064.0,518.0 1077.0,562.0 1092.0,606.0 1107.0,650.0 1098.0,650.0 1086.0,610.0 1049.0,561.0 1027.0,515.0 1040.0,507.0" fill="#2a2a2a" filter="url(#f25)" opacity="1"/>
<polygon points="1029.7,473.0 1056.5,473.0 1059.5,502.7 1044.6,507.2" fill="#303030" filter="url(#f4)" opacity="1"/>
<polygon points="812.0,489.0 848.0,473.0 894.0,473.0 930.0,538.0 915.0,552.0 870.0,579.0 848.0,589.0 830.0,585.0 812.0,564.0" fill="#484848" filter="url(#f15)" opacity="1"/>
<polygon points="856.6,505.7 895.3,502.7 913.1,532.5 883.4,535.5 861.1,529.5" fill="#5a5a5a" filter="url(#f6)" opacity="1"/>
<polygon points="871.5,480.4 892.3,478.9 895.3,498.3 876.0,498.3" fill="#363636" filter="url(#f4)" opacity="1"/>
<polygon points="812.0,510.2 841.7,517.6 841.7,561.9 812.0,561.9" fill="#424242" filter="url(#f6)" opacity="1"/>
<polygon points="899.8,473.0 945.9,473.0 954.8,502.7 960.7,522.1 1000.0,556.3 1000.0,568.2 969.7,561.9 945.9,535.5 931.0,532.5 919.1,510.2" fill="#242424" filter="url(#f25)" opacity="1"/>
<polygon points="942.9,473.0 1000.0,473.0 1000.0,523.6 987.5,529.5 960.7,522.1 951.8,495.3" fill="#464646" filter="url(#f6)" opacity="1"/>
<polygon points="952.0,473.0 1021.0,473.0 1040.0,507.0 1000.0,529.5 987.5,529.5 962.0,520.0" fill="#484848" filter="url(#f4)" opacity="1"/>
<polygon points="985.0,473.0 1021.0,473.0 1040.0,507.0 1000.0,529.5 992.0,505.0" fill="#646464" filter="url(#f4)" opacity="1"/>
<polyline points="1021.0,473.0 1040.2,507.2 1000.0,529.5 986.0,531.0" fill="none" stroke="#949494" stroke-width="1.4" filter="url(#f08)" opacity="1" stroke-linejoin="round" stroke-linecap="round"/>
<polygon points="1000.0,529.5 1026.8,515.4 1080.3,611.6 1050.6,625.0 1014.9,619.0 1000.0,608.6 997.0,590.0 999.0,556.0" fill="#565656" filter="url(#f15)" opacity="1"/>
<polygon points="1012.0,530.0 1026.8,515.4 1080.3,611.6 1062.0,618.0 1040.0,585.0" fill="#6e6e6e" filter="url(#f4)" opacity="1"/>
<polygon points="1050.0,585.0 1066.0,590.0 1080.3,611.6 1056.0,621.0" fill="#848484" filter="url(#f4)" opacity="1"/>
<polygon points="1000.0,529.0 1018.0,521.0 1022.0,545.0 1004.0,556.0" fill="#424242" filter="url(#f4)" opacity="1"/>
<polygon points="1000.0,556.0 1012.0,560.0 1024.0,600.0 1014.0,619.0 1000.0,608.0 997.0,590.0" fill="#4a4a4a" filter="url(#f4)" opacity="1"/>
<polygon points="969.7,562.0 985.0,546.0 997.0,535.0 1004.0,556.0 1006.0,580.0 1002.0,600.0 1000.0,614.0 990.0,600.0 975.6,573.0" fill="#282828" filter="url(#f25)" opacity="1"/>
<polyline points="1026.8,515.4 1080.3,611.6" fill="none" stroke="#a8a8a8" stroke-width="1.8" filter="url(#f08)" opacity="1" stroke-linejoin="round" stroke-linecap="round"/>
<polygon points="1030.5,517.6 1043.1,522.1 1044.6,535.5 1039.0,532.5" fill="#646464" filter="url(#f08)" opacity="1"/>
<polygon points="931.0,532.5 969.7,562.0 975.6,572.9 998.0,613.0 1000.0,623.5 975.6,630.9 942.9,650.0 902.7,650.0 892.3,632.4 877.4,610.0 870.0,578.8 914.6,551.8" fill="#5e5e5e" filter="url(#f15)" opacity="1"/>
<polygon points="950.3,565.5 975.6,572.9 997.9,613.1 975.6,630.9 951.8,620.5 945.9,590.7" fill="#787878" filter="url(#f4)" opacity="1"/>
<polygon points="978.6,595.2 997.9,613.1 990.5,620.5 977.1,610.1" fill="#a4a4a4" filter="url(#f25)" opacity="1"/>
<polygon points="878.9,610.1 907.2,602.6 919.1,619.0 950.3,623.5 975.6,630.9 942.9,649.9 902.7,649.9 892.3,632.4" fill="#3c3c3c" filter="url(#f4)" opacity="1"/>
<polygon points="868.5,531.0 901.2,536.2 916.1,547.4 907.2,547.4 889.3,544.4 874.5,542.9" fill="#585858" filter="url(#f08)" opacity="1"/>
<polyline points="868.5,531.0 874.5,542.9 889.3,544.4 907.2,547.4 914.6,551.8" fill="none" stroke="#949494" stroke-width="1.3" filter="url(#f08)" opacity="1" stroke-linejoin="round" stroke-linecap="round"/>
<polyline points="868.5,531.0 901.2,536.2 916.1,547.4" fill="none" stroke="#7c7c7c" stroke-width="1.0" filter="url(#f08)" opacity="1" stroke-linejoin="round" stroke-linecap="round"/>
<polygon points="907.0,548.0 916.0,552.0 916.0,561.0 904.0,561.0" fill="#8a8a8a" filter="url(#f08)" opacity="1"/>
<polygon points="904.2,561.0 916.1,561.0 942.9,590.7 947.4,611.6 950.3,622.0 939.9,620.5 919.1,617.5 907.2,601.2 902.7,583.3" fill="#808080" filter="url(#f15)" opacity="1"/>
<polyline points="914.6,561.0 925.0,580.3 931.0,599.7 935.5,610.1" fill="none" stroke="#c8c8c8" stroke-width="1.5" filter="url(#f08)" opacity="1" stroke-linejoin="round" stroke-linecap="round"/>
<polyline points="904.5,562.5 903.5,583.3 907.2,601.2 919.1,617.5 939.9,620.5 950.3,622.0" fill="none" stroke="#b4b4b4" stroke-width="1.2" filter="url(#f08)" opacity="1" stroke-linejoin="round" stroke-linecap="round"/>
<polyline points="942.9,590.7 947.4,611.6 950.3,622.0" fill="none" stroke="#b4b4b4" stroke-width="1.2" filter="url(#f08)" opacity="1" stroke-linejoin="round" stroke-linecap="round"/>
<polyline points="907.2,548.1 910.2,556.3 914.6,561.9" fill="none" stroke="#b4b4b4" stroke-width="1.4" filter="url(#f08)" opacity="1" stroke-linejoin="round" stroke-linecap="round"/>
<polygon points="962.2,561.0 971.2,562.5 981.6,575.1 971.2,576.6 963.7,568.4" fill="#bcbcbc" filter="url(#f08)" opacity="1"/>
<polygon points="957.0,542.9 968.2,556.3 968.9,561.9 962.2,561.9 958.5,550.3" fill="#9c9c9c" filter="url(#f15)" opacity="1"/>
<polyline points="975.6,572.9 997.9,613.1" fill="none" stroke="#b0b0b0" stroke-width="1.5" filter="url(#f08)" opacity="1" stroke-linejoin="round" stroke-linecap="round"/>
<polygon points="849.2,587.8 870.0,578.8 877.4,605.6 868.5,604.1" fill="#2a2a2a" filter="url(#f15)" opacity="1"/>
<polygon points="812.0,564.0 829.8,584.8 841.7,586.3 861.1,601.2 877.4,610.1 892.3,632.4 903.5,649.9 812.0,649.9" fill="#727272" filter="url(#f15)" opacity="1"/>
<polygon points="812.0,583.3 829.8,589.3 849.2,599.7 841.7,610.1 812.0,605.6" fill="#7c7c7c" filter="url(#f25)" opacity="1"/>
<polygon points="816.5,610.1 838.8,617.5 847.7,630.9 826.9,625.0" fill="#5e5e5e" filter="url(#f25)" opacity="1"/>
<polygon points="853.6,620.5 862.6,619.0 864.1,638.3 855.1,638.3" fill="#5e5e5e" filter="url(#f25)" opacity="1"/>
<polygon points="864.1,610.1 877.4,614.5 886.4,632.4 874.5,630.9" fill="#808080" filter="url(#f25)" opacity="1"/>
<polygon points="812.0,620.5 823.9,623.5 826.9,636.9 812.0,642.8" fill="#969696" filter="url(#f25)" opacity="1"/>
<polygon points="812.0,623.5 819.4,624.2 822.7,629.4 818.2,635.4 812.0,635.4" fill="#fafafa" filter="url(#f08)" opacity="1"/>
<polygon points="812.0,643.6 856.6,642.1 901.2,649.9 812.0,649.9" fill="#585858" filter="url(#f25)" opacity="1"/>
<polyline points="893.8,473.0 916.1,516.1 929.5,538.4 928.3,544.4 914.6,551.8" fill="none" stroke="#c4c4c4" stroke-width="2.6" filter="url(#f08)" opacity="1" stroke-linejoin="round" stroke-linecap="round"/>
<polygon points="916.1,506.5 922.8,510.2 923.6,515.4 918.4,514.6" fill="#a0a0a0" filter="url(#f08)" opacity="1"/>
<polygon points="812.0,476.0 841.7,473.0 847.7,473.0 813.5,489.4 812.0,489.4" fill="#9c9c9c" filter="url(#f08)" opacity="1"/>
<polygon points="844.0,473.0 855.1,473.0 854.4,478.9 849.9,483.7 845.5,478.9" fill="#d4d4d4" filter="url(#f08)" opacity="1"/>
<polygon points="942.9,649.9 975.6,630.9 1000.0,623.5 1000.0,649.9" fill="#6e6e6e" filter="url(#f25)" opacity="1"/>
<polygon points="1000.0,608.6 1008.9,607.1 1019.3,620.5 1038.7,619.0 1050.6,630.9 1065.4,647.3 1066.9,649.9 1000.0,649.9" fill="#868686" filter="url(#f15)" opacity="1"/>
<polygon points="1022.3,623.5 1038.7,620.5 1052.1,635.4 1044.6,639.8 1026.8,632.4" fill="#a8a8a8" filter="url(#f25)" opacity="1"/>
<polygon points="1000.0,630.9 1022.3,635.4 1029.7,649.9 1000.0,649.9" fill="#727272" filter="url(#f25)" opacity="1"/>
<polygon points="1010.4,618.7 1015.2,618.1 1015.2,622.3 1011.2,622.3" fill="#383838" filter="url(#f08)" opacity="1"/>
<polygon points="1056.5,632.4 1080.3,623.5 1095.2,641.3 1104.1,649.9 1066.9,649.9" fill="#747474" filter="url(#f15)" opacity="1"/>
<polygon points="1050.6,625.0 1080.3,611.6 1089.2,608.6 1083.3,620.5 1056.5,633.1" fill="#1a1a1a" filter="url(#f08)" opacity="1"/>
<polyline points="1061.0,566.9 1074.4,587.8 1087.8,607.1" fill="none" stroke="#222222" stroke-width="4" filter="url(#f15)" opacity="1" stroke-linejoin="round" stroke-linecap="round"/>
<polyline points="1089.2,610.1 1104.1,638.3" fill="none" stroke="#606060" stroke-width="2" filter="url(#f08)" opacity="1" stroke-linejoin="round" stroke-linecap="round"/>
<polygon points="1082.6,487.1 1089.2,489.4 1095.2,493.1 1089.2,492.3 1083.3,490.1" fill="#303030" filter="url(#f08)" opacity="1"/>
<polygon points="1083.3,478.9 1088.9,480.7 1093.0,478.2 1095.2,484.2 1097.4,491.6 1090.7,487.6 1085.5,486.7" fill="#e4e4e4" filter="url(#f08)" opacity="1"/>
<polygon points="1135.4,473.0 1145.8,473.0 1142.8,481.2 1136.8,481.9" fill="#949494" filter="url(#f08)" opacity="1"/>
<polygon points="1166.6,478.9 1177.0,473.0 1188.0,477.5 1188.0,502.7 1178.5,495.3 1171.1,492.3" fill="#747474" filter="url(#f15)" opacity="1"/>
<polygon points="1171.8,483.4 1177.7,476.7 1179.2,489.4 1175.8,494.6" fill="#b8b8b8" filter="url(#f08)" opacity="1"/>
<polygon points="1182.2,489.4 1188.0,490.8 1188.0,499.8 1184.4,498.3" fill="#a0a0a0" filter="url(#f08)" opacity="1"/>
</g>
<rect x="812" y="473" width="376" height="176.5" filter="url(#motW)" opacity="0.12"/>
<rect x="812" y="473" width="376" height="176.5" filter="url(#motK)" opacity="0.17"/>
<rect x="812" y="473" width="376" height="176.5" filter="url(#noiseW)" opacity="0.22"/>
<rect x="812" y="473" width="376" height="176.5" filter="url(#noiseK)" opacity="0.22"/>
</g>
<rect x="812" y="649.2" width="376" height="43.4" fill="#000"/>
<rect x="814.4" y="650.8" width="2.8" height="8.6" fill="#fff"/>
<rect x="850.4" y="650.8" width="2.8" height="8.6" fill="#fff"/>
<rect x="886.3" y="650.8" width="2.8" height="8.6" fill="#fff"/>
<rect x="922.2" y="650.8" width="2.8" height="8.6" fill="#fff"/>
<rect x="958.2" y="650.8" width="2.8" height="8.6" fill="#fff"/>
<rect x="994.1" y="650.8" width="2.8" height="8.6" fill="#fff"/>
<rect x="1030.1" y="650.8" width="2.8" height="8.6" fill="#fff"/>
<rect x="1066.0" y="650.8" width="2.8" height="8.6" fill="#fff"/>
<rect x="1102.0" y="650.8" width="2.8" height="8.6" fill="#fff"/>
<rect x="1137.9" y="650.8" width="2.8" height="8.6" fill="#fff"/>
<rect x="1173.9" y="650.8" width="2.8" height="8.6" fill="#fff"/>
<text transform="translate(1095.2,683.7) scale(1.0,1)" font-family="Liberation Sans, sans-serif" font-size="27px" fill="#f4f4f4">100um</text>
</g>
</svg>
</body></html>
